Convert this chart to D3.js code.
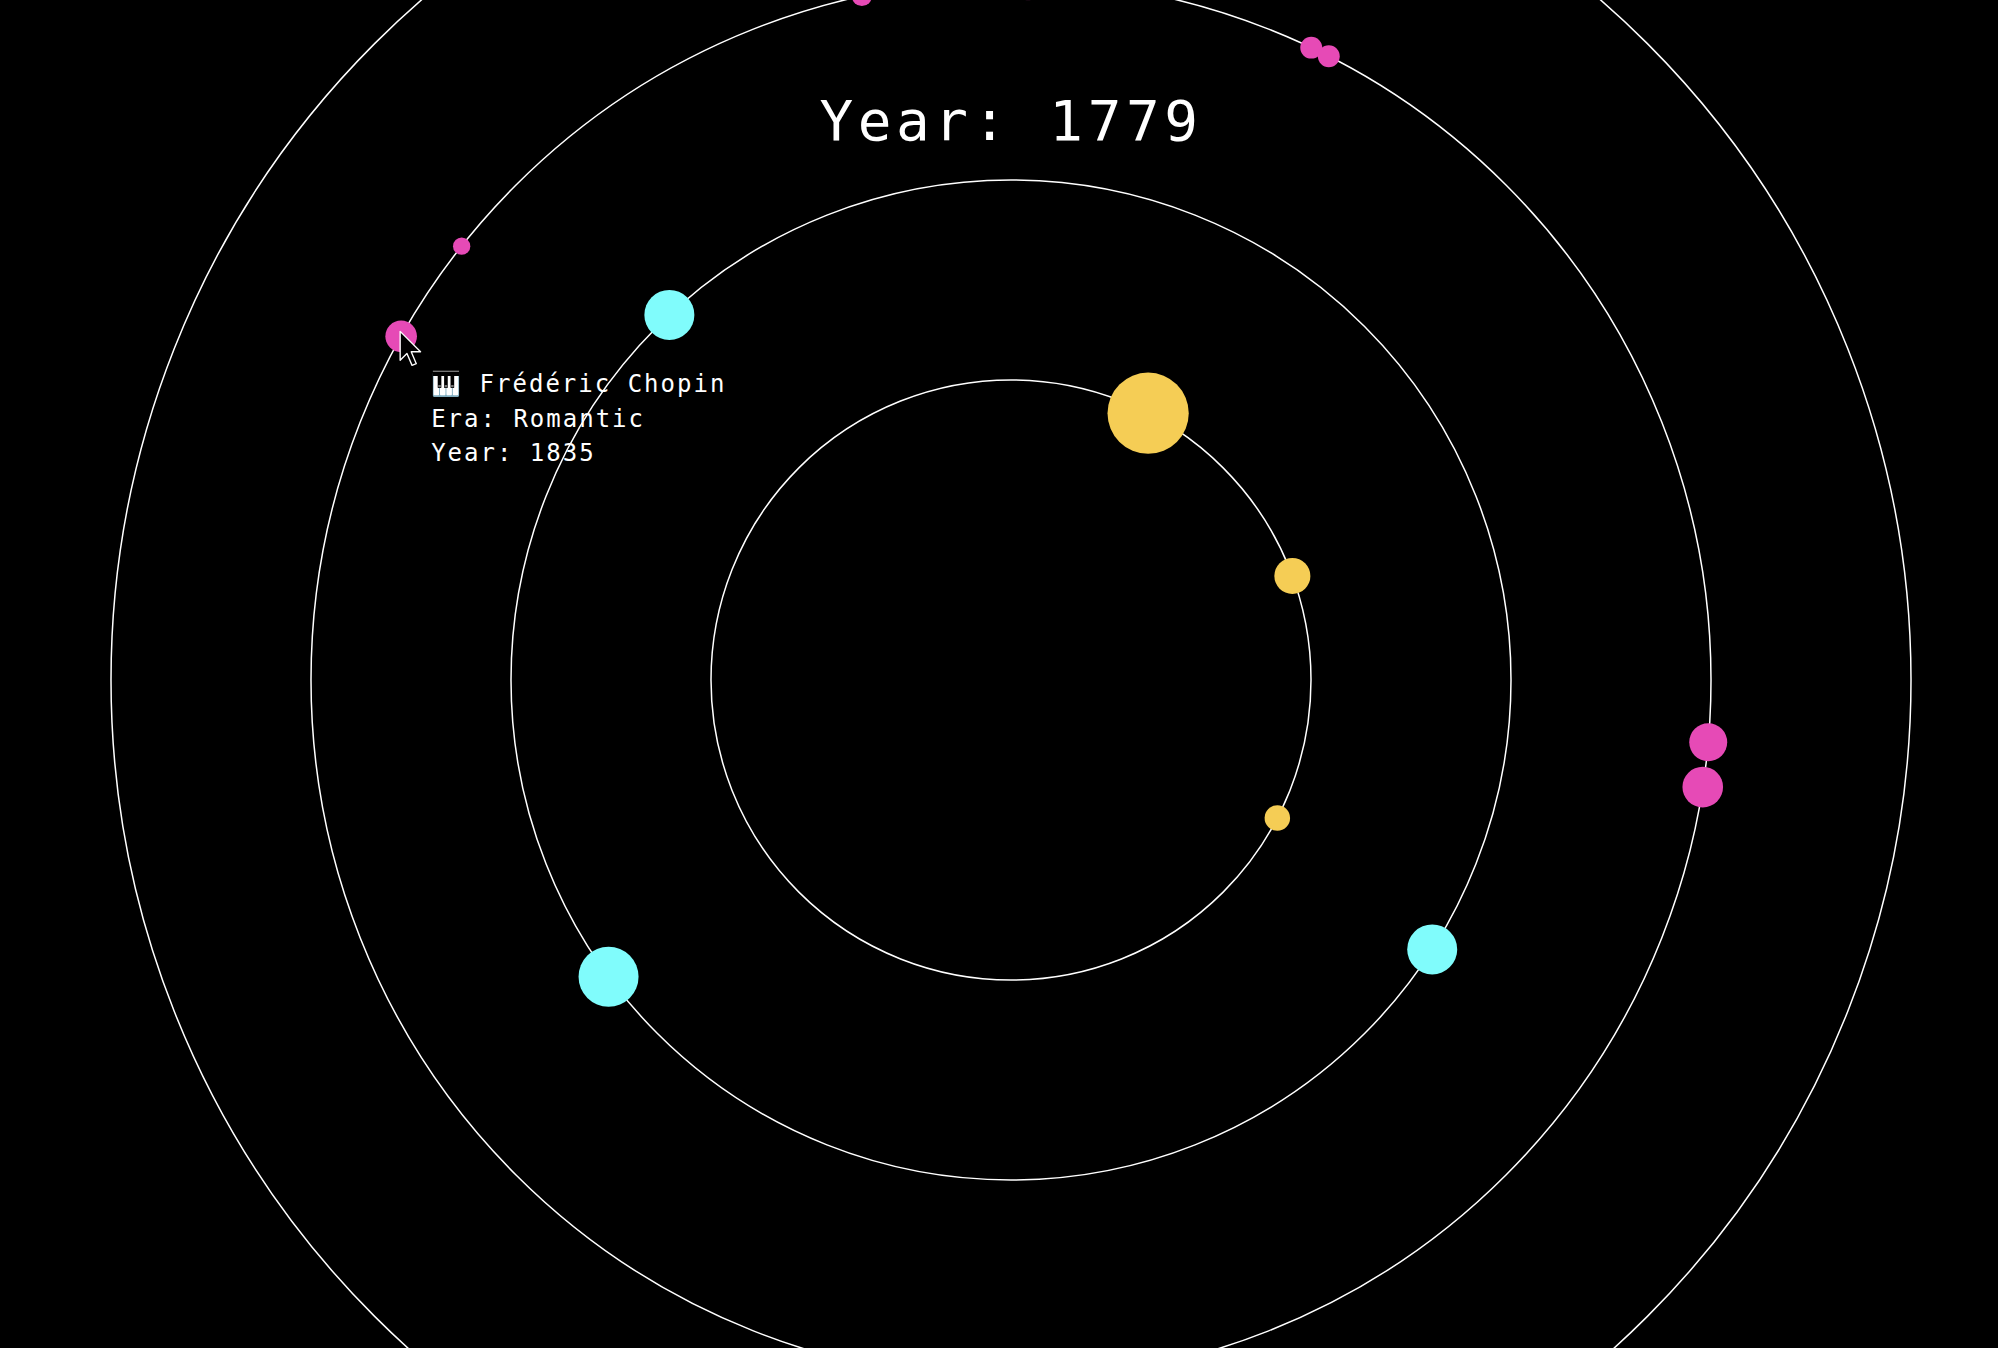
<!DOCTYPE html>
<html>
<head>
<meta charset="utf-8">
<script src="https://cdn.jsdelivr.net/npm/d3@7"></script>
<style>
  html, body { margin: 0; padding: 0; background: #000; overflow: hidden; }
  svg { display: block; }
  .year { font-family: "DejaVu Sans Mono", monospace; fill: #fff; }
  .tip { font-family: "DejaVu Sans Mono", monospace; fill: #fff; }
</style>
</head>
<body>
<div id="chart"></div>
<script>
var width = 1998, height = 1348;
var cx = 1011, cy = 680;

// eras = orbits, inner to outer
var eras = ["Baroque", "Classical", "Romantic", "Modern"];
var eraPalette = ["#f5cd55", "#80fcfc", "#e64ab6", "#9b8cff"];

var currentYear = 1779;

// composers currently on the orbits
var dotEra = ["Baroque", "Baroque", "Baroque",
              "Classical", "Classical", "Classical",
              "Romantic", "Romantic", "Romantic", "Romantic",
              "Romantic", "Romantic", "Romantic", "Romantic"];
var dotAngle = [27.2, 69.7, 117.4,
                316.9, 233.6, 122.6,
                308.3, 299.4, 25.4, 27.0,
                95.1, 98.8, 347.7, 1.4];
var dotWeight = [66, 13, 6.5,
                 25, 36, 25,
                 3, 10, 4.8, 4.8,
                 14.4, 16.5, 4, 16];
var enteringDots = [13];

// hovered composer (tooltip)
var hoverIndex = 7;
var tipName = "\u{1F3B9} Frédéric Chopin";
var tipEra = "Romantic";
var tipYear = 1835;

var svg = d3.select("#chart").append("svg")
    .attr("width", width)
    .attr("height", height)
    .style("background", "#000");

var ringScale = d3.scalePoint().domain(eras).range([300, 900]);
var angleScale = d3.scaleLinear().domain([0, 360]).range([0, 2 * Math.PI]);
var sizeScale = d3.scaleSqrt().domain([0, 100]).range([0, 50]);
var color = d3.scaleOrdinal().domain(eras).range(eraPalette);

var g = svg.append("g").attr("transform", "translate(" + cx + "," + cy + ")");

g.selectAll(".orbit")
    .data(eras)
  .enter().append("circle")
    .attr("class", "orbit")
    .attr("r", function(d) { return ringScale(d); })
    .attr("fill", "none")
    .attr("stroke", "#fff")
    .attr("stroke-width", 1.5);

var dots = dotEra.map(function(e, i) {
    var p = d3.pointRadial(angleScale(dotAngle[i]), ringScale(e));
    return { era: e, x: p[0], y: p[1], r: sizeScale(dotWeight[i]), i: i };
});

g.selectAll(".composer")
    .data(dots)
  .enter().append("circle")
    .attr("class", "composer")
    .attr("cx", function(d) { return d.x; })
    .attr("cy", function(d) { return d.y; })
    .attr("r", function(d) { return d.r; })
    .attr("fill", function(d) { return color(d.era); })
    .attr("opacity", function(d) { return enteringDots.indexOf(d.i) >= 0 ? 0.3 : 1; });

svg.append("text")
    .attr("class", "year")
    .attr("x", cx)
    .attr("y", 140)
    .attr("text-anchor", "middle")
    .style("font-size", "56px")
    .style("letter-spacing", "4.6px")
    .text("Year: " + currentYear);

// tooltip next to the hovered composer
var h = dots[hoverIndex];
var tip = g.append("text")
    .attr("class", "tip")
    .attr("x", h.x + 30)
    .attr("y", h.y + 56)
    .style("font-size", "24px")
    .style("letter-spacing", "2px");

[tipName, "Era: " + tipEra, "Year: " + tipYear].forEach(function(line, k) {
    tip.append("tspan")
        .attr("x", h.x + 30)
        .attr("dy", k == 0 ? 0 : 34.5)
        .text(line);
});

// mouse pointer
g.append("path")
    .attr("d", "M0,0 L0,17 L4,13 L7,20 L9.5,19 L6.5,12 L12,12 Z")
    .attr("transform", "translate(" + (h.x - 1) + "," + (h.y - 5) + ") scale(1.7)")
    .attr("fill", "#000")
    .attr("stroke", "#fff")
    .attr("stroke-width", 0.8)
    .attr("stroke-linejoin", "round");
</script>
</body>
</html>
